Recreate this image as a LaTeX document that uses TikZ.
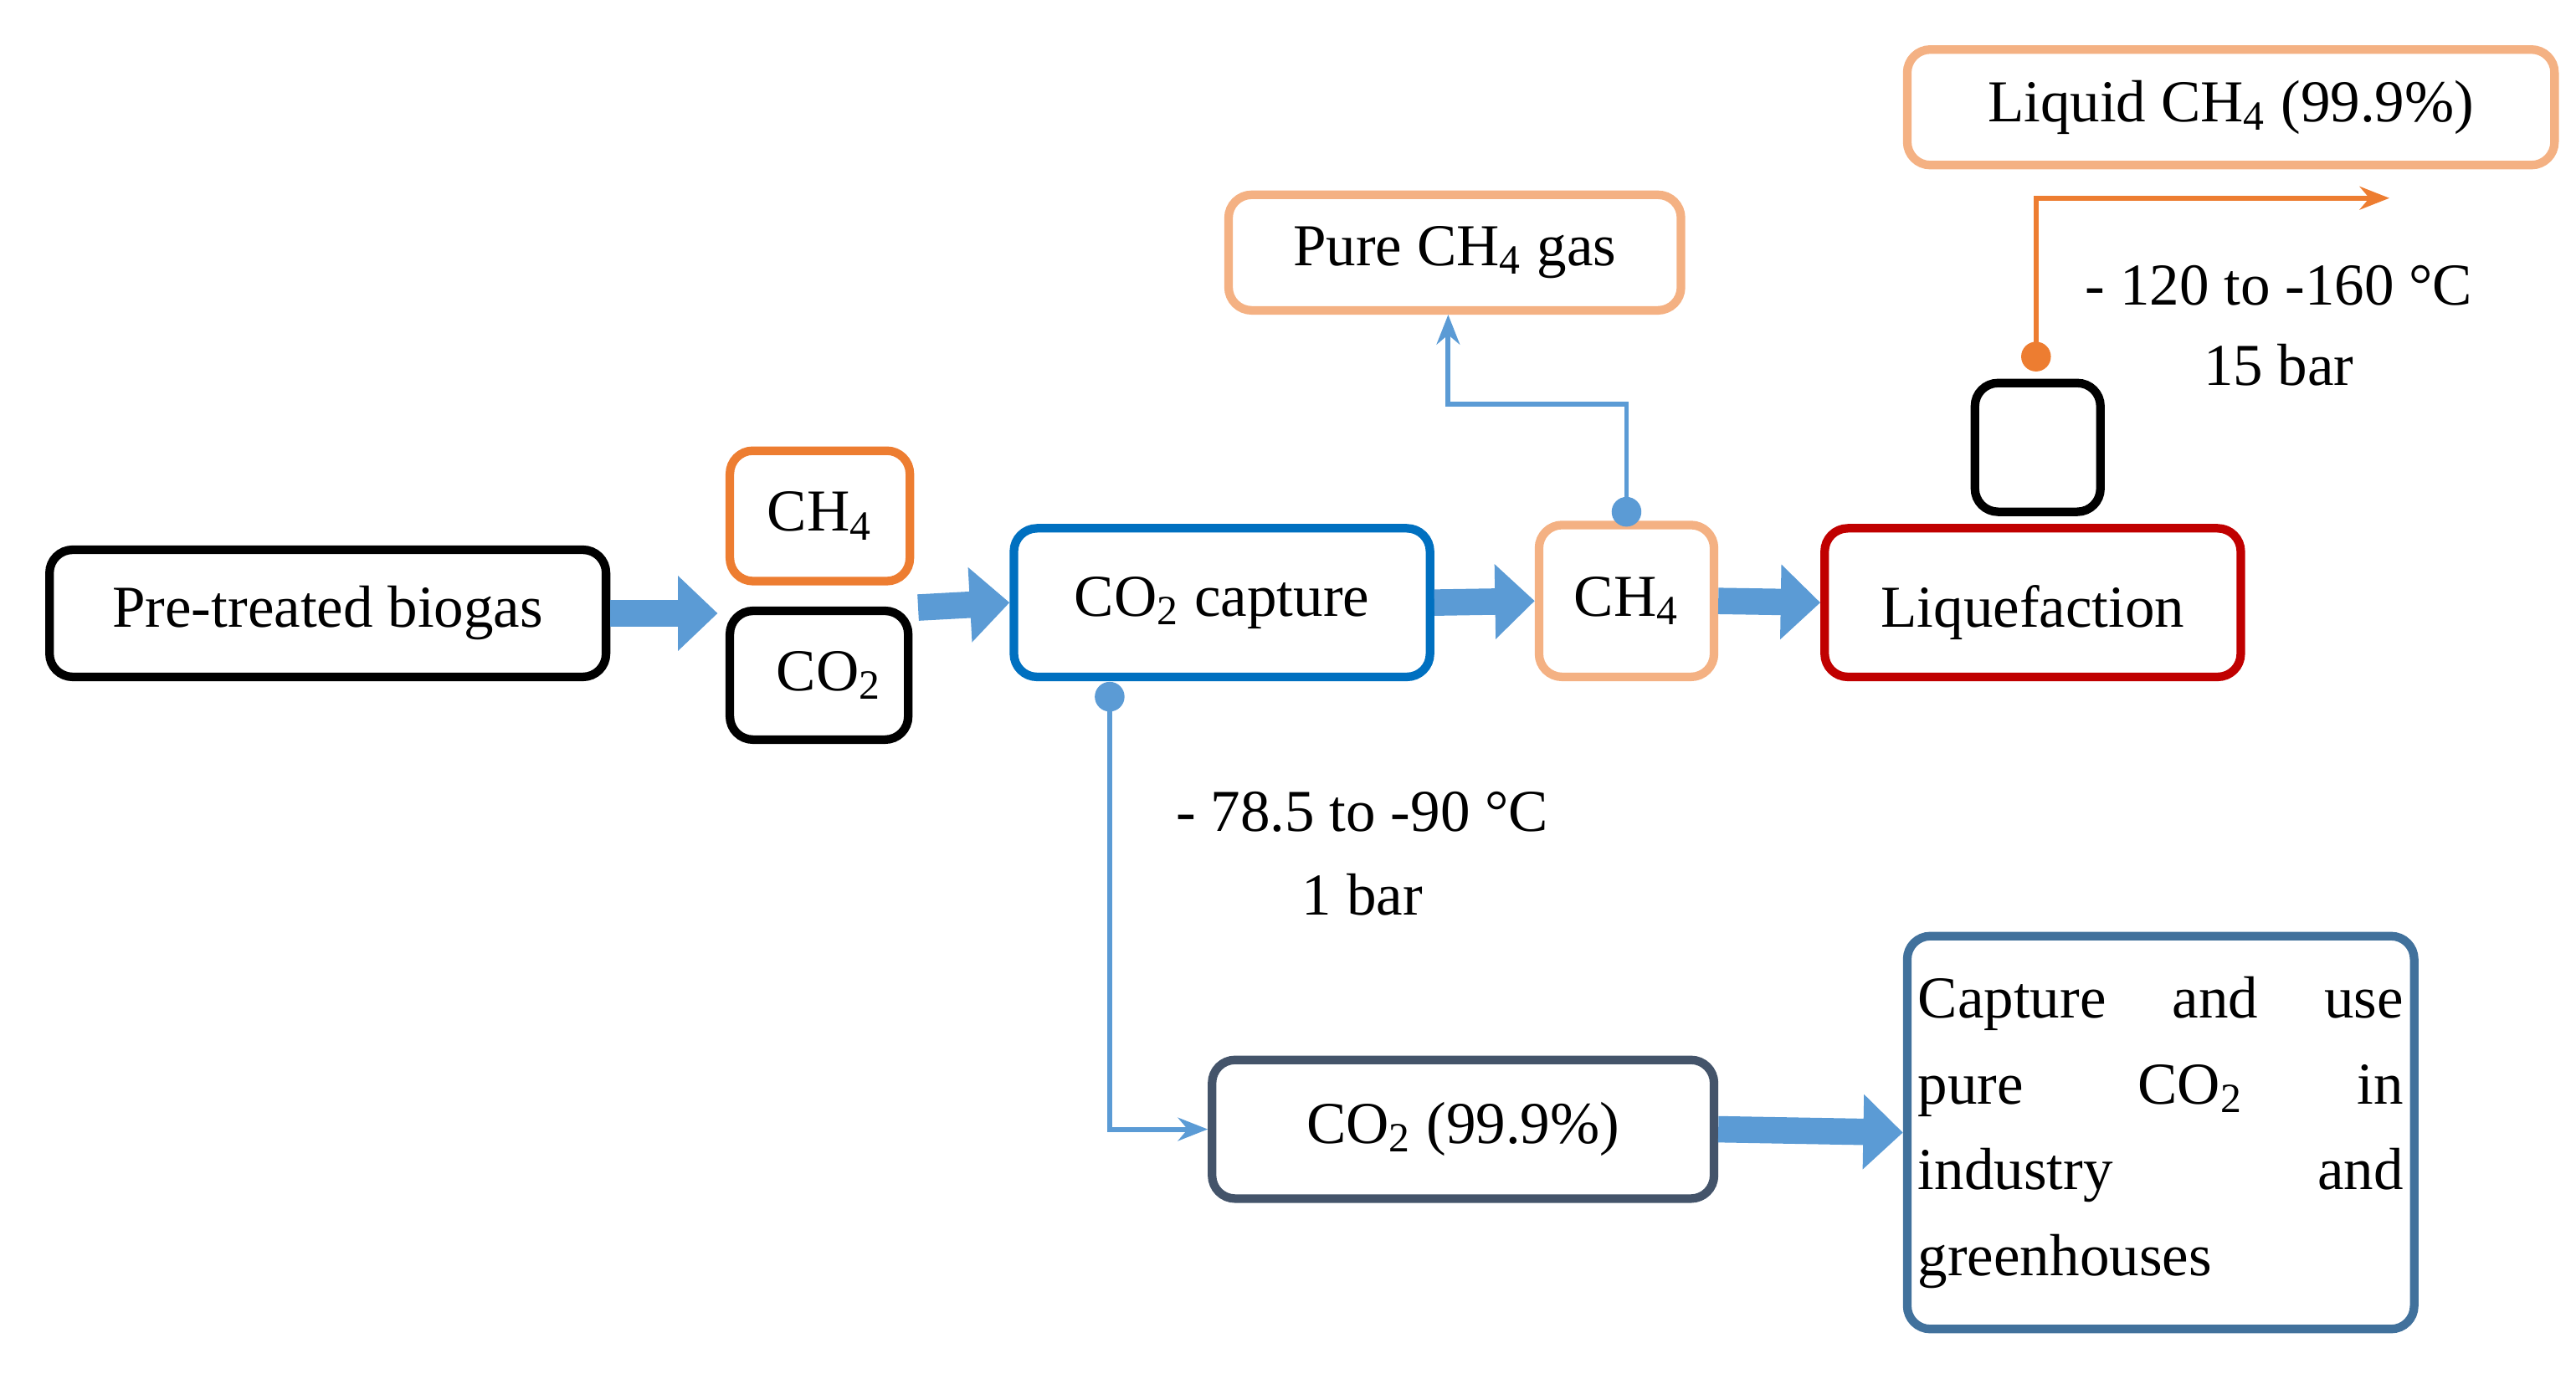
\documentclass[tikz,border=0pt]{standalone}
\usepackage{fontspec}
\setmainfont{Liberation Serif}
\usetikzlibrary{arrows.meta}
\definecolor{fatblue}{HTML}{5B9BD5}
\definecolor{peach}{HTML}{F4B183}
\definecolor{orng}{HTML}{ED7D31}
\definecolor{capblue}{HTML}{0070C0}
\definecolor{darkred}{HTML}{C00000}
\definecolor{slate}{HTML}{44546A}
\definecolor{steel}{HTML}{41719C}
\begin{document}
\begin{tikzpicture}[x=0.5pt,y=-0.5pt,
  font=\fontsize{18}{20}\selectfont,
  box/.style={draw, line width=2.6pt, rounded corners=7pt, inner sep=0pt},
  fat/.style={fatblue, line width=8pt, -{Triangle[length=12pt,width=22pt]}, shorten >=0pt},
  thin/.style={fatblue, line width=1.5pt, -{Stealth[length=9pt,width=7pt]}},
  dot/.style={circle, fill, inner sep=0pt, minimum size=9pt}]
\useasboundingbox (0,0) rectangle (1560,838);
\newcommand{\bx}[6]{\node[box,draw=#5,minimum width=(#3-#1)*0.5pt,minimum height=(#4-#2)*0.5pt] (#6) at ({(#1+#3)/2},{(#2+#4)/2}) {};}
\bx{30}{333}{367}{410}{black}{bio}
\node at (bio) {Pre-treated biogas};
\bx{442}{273}{551}{352}{orng}{ch4a}
\node at (ch4a) {CH\textsubscript{4}};
\bx{442}{370}{550}{448}{black}{co2a}
\node at ([xshift=3pt]co2a) {CO\textsubscript{2}};
\bx{614}{320}{866}{410}{capblue}{cap}
\node at (cap) {CO\textsubscript{2} capture};
\bx{932}{318}{1038}{410}{peach}{ch4b}
\node at (ch4b) {CH\textsubscript{4}};
\bx{1105}{320}{1357}{410}{darkred}{liq}
\node at ([yshift=-3pt]liq) {Liquefaction};
\bx{1196}{232}{1272}{310}{black}{sq}
\bx{744}{118}{1018}{188}{peach}{pure}
\node at (pure) {Pure CH\textsubscript{4} gas};
\bx{1155}{30}{1547}{100}{peach}{lch}
\node at (lch) {Liquid CH\textsubscript{4} (99.9\%)};
\bx{734}{642}{1038}{726}{slate}{co2p}
\node at (co2p) {CO\textsubscript{2} (99.9\%)};
\bx{1155}{567}{1462}{805}{steel}{use}
\node[text width=147pt, align=left, font=\fontsize{18}{26}\selectfont] (usetxt) at (use) {Capture\hfill and\hfill use\\ pure\hfill CO\textsubscript{2}\hfill in\\ industry\hfill and\\ greenhouses};
% fat arrows
\draw[fat] (bio.east) -- ++(65,0);
\draw[fat] (556,368) -- (cap.west);
\draw[fat] (cap.east) -- (ch4b.west);
\draw[fat] (ch4b.east) -- (liq.west);
\draw[fat] (co2p.east) -- (use.west);
% thin connectors
\coordinate (d1) at (672,422);
\node[dot,fatblue] at (d1) {};
\draw[thin] (d1) |- (co2p.west);
\coordinate (d2) at (985,310);
\node[dot,fatblue] at (d2) {};
\draw[thin] (d2) -- (985,245) -- (877,245) -- (pure.south-|877,0);
\coordinate (d3) at (1233,216);
\coordinate (e3) at (1447,120);
\node[dot,orng] at (d3) {};
\draw[thin,orng] (d3) |- (e3);
\node at (825,492) {- 78.5 to -90 °C};
\node at (825,542) {1 bar};
\node at (1380,173) {- 120 to -160 °C};
\node at (1380,221) {15 bar};
\end{tikzpicture}
\end{document}
